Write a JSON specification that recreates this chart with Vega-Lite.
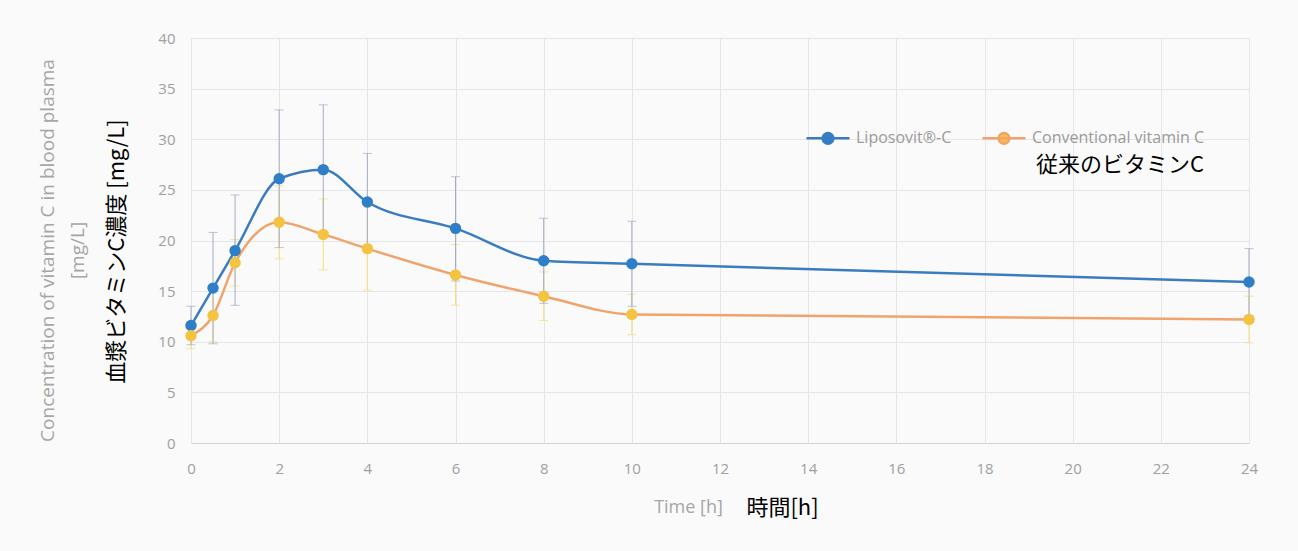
{
  "$schema": "https://vega.github.io/schema/vega-lite/v6.json",
  "width": 1058,
  "height": 405,
  "autosize": {"type": "none"},
  "padding": {"left": 191, "top": 38, "right": 49, "bottom": 108},
  "background": "#fafafa",
  "config": {
    "font": "Open Sans",
    "view": {"stroke": null},
    "axis": {"labelColor": "#a0a0a0", "labelFontSize": 15, "titleFontWeight": "normal", "ticks": false, "gridColor": "#e6e6e6", "gridWidth": 1, "labelFlush": false}
  },
  "data": {
    "values": [
      {"series": "Liposovit®-C", "t": 0, "mean": 11.6, "lo": 9.7, "hi": 13.5},
      {"series": "Liposovit®-C", "t": 0.5, "mean": 15.3, "lo": 9.8, "hi": 20.8},
      {"series": "Liposovit®-C", "t": 1, "mean": 19.0, "lo": 13.6, "hi": 24.5},
      {"series": "Liposovit®-C", "t": 2, "mean": 26.1, "lo": 19.3, "hi": 32.9},
      {"series": "Liposovit®-C", "t": 3, "mean": 27.0, "lo": 20.6, "hi": 33.4},
      {"series": "Liposovit®-C", "t": 4, "mean": 23.8, "lo": 19.0, "hi": 28.6},
      {"series": "Liposovit®-C", "t": 6, "mean": 21.2, "lo": 16.0, "hi": 26.3},
      {"series": "Liposovit®-C", "t": 8, "mean": 18.0, "lo": 13.8, "hi": 22.2},
      {"series": "Liposovit®-C", "t": 10, "mean": 17.7, "lo": 13.5, "hi": 21.9},
      {"series": "Liposovit®-C", "t": 24, "mean": 15.9, "lo": 12.6, "hi": 19.2},
      {"series": "Conventional vitamin C", "t": 0, "mean": 10.6, "lo": 9.3, "hi": 11.9},
      {"series": "Conventional vitamin C", "t": 0.5, "mean": 12.6, "lo": 10.0, "hi": 15.2},
      {"series": "Conventional vitamin C", "t": 1, "mean": 17.8, "lo": 15.5, "hi": 20.1},
      {"series": "Conventional vitamin C", "t": 2, "mean": 21.8, "lo": 18.2, "hi": 25.4},
      {"series": "Conventional vitamin C", "t": 3, "mean": 20.6, "lo": 17.1, "hi": 24.1},
      {"series": "Conventional vitamin C", "t": 4, "mean": 19.2, "lo": 15.1, "hi": 23.3},
      {"series": "Conventional vitamin C", "t": 6, "mean": 16.6, "lo": 13.6, "hi": 19.6},
      {"series": "Conventional vitamin C", "t": 8, "mean": 14.5, "lo": 12.1, "hi": 16.9},
      {"series": "Conventional vitamin C", "t": 10, "mean": 12.7, "lo": 10.7, "hi": 14.7},
      {"series": "Conventional vitamin C", "t": 24, "mean": 12.2, "lo": 9.9, "hi": 14.5}
    ]
  },
  "layer": [
    {
      "transform": [{"filter": "datum.series === 'Conventional vitamin C'"}],
      "mark": {"type": "errorbar", "ticks": {"size": 9, "color": "#f7dc7a"}, "rule": {"strokeWidth": 1, "color": "#f7dc7a"}},
      "encoding": {
        "x": {"field": "t", "type": "quantitative", "scale": {"domain": [0, 24], "nice": false}, "axis": null},
        "y": {"field": "lo", "type": "quantitative", "scale": {"domain": [0, 40], "nice": false}, "axis": null},
        "y2": {"field": "hi"}
      }
    },
    {
      "transform": [{"filter": "datum.series === 'Liposovit®-C'"}],
      "mark": {"type": "errorbar", "ticks": {"size": 9, "color": "#a3acc4"}, "rule": {"strokeWidth": 1, "color": "#a3acc4"}},
      "encoding": {
        "x": {"field": "t", "type": "quantitative", "axis": null},
        "y": {"field": "lo", "type": "quantitative", "axis": null},
        "y2": {"field": "hi"}
      }
    },
    {
      "mark": {"type": "line", "interpolate": "monotone", "strokeWidth": 2.5},
      "encoding": {
        "x": {
          "field": "t", "type": "quantitative",
          "axis": {
            "values": [0, 2, 4, 6, 8, 10, 12, 14, 16, 18, 20, 22, 24],
            "grid": true, "domainColor": "#d4d4d4", "labelPadding": 18,
            "title": "Time [h]", "titleColor": "#a6a6a6", "titleFontSize": 18, "titleFont": "Open Sans",
            "titleX": 497, "titleY": 64, "titleBaseline": "middle", "titleAlign": "center"
          }
        },
        "y": {
          "field": "mean", "type": "quantitative",
          "axis": {
            "values": [0, 5, 10, 15, 20, 25, 30, 35, 40],
            "grid": true, "domain": false, "labelPadding": 16,
            "title": "血漿ビタミンC濃度 [mg/L]", "titleColor": "#000000", "titleFontSize": 22, "titleFont": "Noto Sans CJK JP",
            "titleX": -75, "titleY": 213, "titleAngle": -90, "titleBaseline": "middle", "titleAlign": "center"
          }
        },
        "color": {
          "field": "series", "type": "nominal",
          "scale": {"domain": ["Liposovit®-C", "Conventional vitamin C"], "range": ["#3a7cc1", "#f0a36c"]},
          "legend": {
            "orient": "none", "legendX": 614, "legendY": 77, "direction": "horizontal",
            "title": "従来のビタミンC", "titleOrient": "bottom", "titleAnchor": "end", "titleFont": "Noto Sans CJK JP",
            "titleFontSize": 22, "titleFontWeight": "normal", "titleColor": "#000000", "titlePadding": 6,
            "labelFont": "Open Sans", "labelFontSize": 16, "labelColor": "#9a9a9a", "labelOffset": 5, "columnPadding": 25, "labelLimit": 0,
            "symbolType": "M-1,0L1,0M-0.25,0A0.25,0.25,0,1,1,0.25,0A0.25,0.25,0,1,1,-0.25,0Z",
            "symbolSize": 1849, "symbolStrokeWidth": 2.5,
            "encode": {"symbols": {"update": {"fill": {"signal": "datum.value === 'Liposovit®-C' ? '#2f7fc8' : '#f5c342'"}}}}
          }
        }
      }
    },
    {
      "mark": {"type": "point", "filled": true, "size": 130, "opacity": 1},
      "encoding": {
        "x": {
          "field": "t", "type": "quantitative",
          "axis": {
            "grid": false, "domain": false, "labels": false,
            "title": "時間[h]", "titleColor": "#000000", "titleFontSize": 22, "titleFont": "Noto Sans CJK JP",
            "titleX": 591, "titleY": 64, "titleBaseline": "middle", "titleAlign": "center", "orient": "bottom"
          }
        },
        "y": {
          "field": "mean", "type": "quantitative",
          "axis": {
            "grid": false, "domain": false, "labels": false, "orient": "left",
            "title": ["Concentration of vitamin C in blood plasma", "[mg/L]"], "titleColor": "#a6a6a6", "titleFontSize": 19,
            "titleFont": "Open Sans", "titleLineHeight": 30,
            "titleX": -144, "titleY": 212, "titleAngle": -90, "titleBaseline": "middle", "titleAlign": "center"
          }
        },
        "fill": {
          "field": "series", "type": "nominal",
          "scale": {"domain": ["Liposovit®-C", "Conventional vitamin C"], "range": ["#2f7fc8", "#f5c342"]},
          "legend": null
        }
      }
    }
  ],
  "resolve": {"axis": {"x": "independent", "y": "independent"}}
}
